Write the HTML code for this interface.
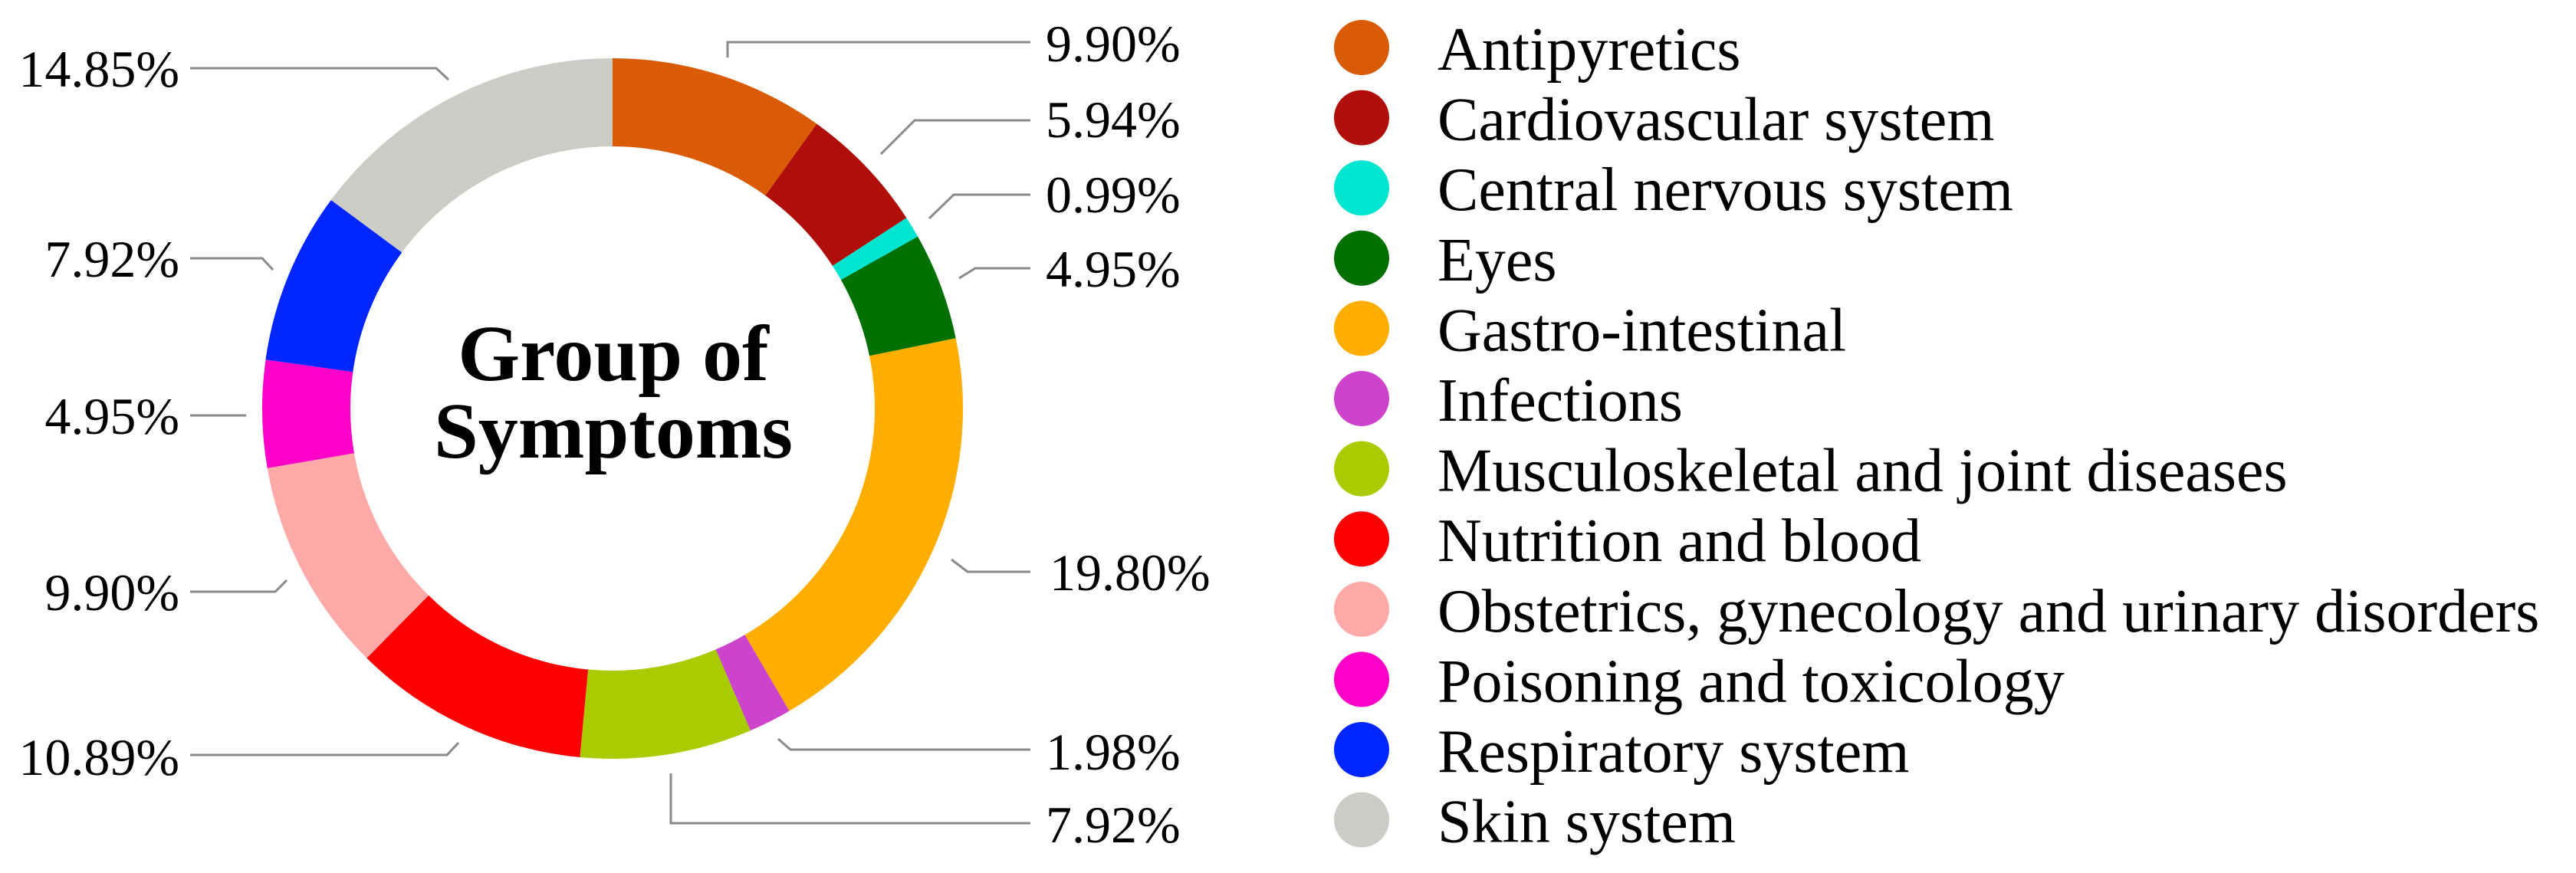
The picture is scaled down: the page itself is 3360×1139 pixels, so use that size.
<!DOCTYPE html>
<html><head><meta charset="utf-8"><style>
html,body{margin:0;padding:0;background:#fff;}
svg{display:block;}
text{font-family:"Liberation Serif",serif;fill:#000;}
</style></head><body>
<svg id="chart" width="3360" height="1139" viewBox="0 0 3360 1139" xmlns="http://www.w3.org/2000/svg">
<g id="slices"></g>
<g id="leaders" stroke="#8a8a8a" stroke-width="3" fill="none"></g>
<g id="labels" font-size="68"></g>
<text x="800" y="496" font-size="104" font-weight="bold" text-anchor="middle">Group of</text>
<text x="800" y="597" font-size="104" font-weight="bold" text-anchor="middle">Symptoms</text>
<g id="legend"></g>
</svg>
<script>
const categories = ["Antipyretics","Cardiovascular system","Central nervous system","Eyes","Gastro-intestinal","Infections","Musculoskeletal and joint diseases","Nutrition and blood","Obstetrics, gynecology and urinary disorders","Poisoning and toxicology","Respiratory system","Skin system"];
const values = [9.90,5.94,0.99,4.95,19.80,1.98,7.92,10.89,9.90,4.95,7.92,14.85];
const colors = ["#d95b06","#b00e0b","#00e5d0","#007000","#ffae00","#cc44cc","#a8cc00","#ff0000","#ffaaa8","#ff00c8","#0025ff","#cbccc6"];
// label layout (annotation positions, not data)
const labelPos = [[1364,80,"start"],[1364,179,"start"],[1364,277,"start"],[1364,374,"start"],[1369,770,"start"],[1364,1004,"start"],[1364,1099,"start"],[234,1011,"end"],[234,796,"end"],[234,566,"end"],[234,361,"end"],[234,113,"end"]];
const leaderPts = [
 [[1344,55],[949,55],[949,75]],
 [[1344,157],[1193,157],[1149,201]],
 [[1344,254],[1244,254],[1212,285]],
 [[1344,350],[1272,350],[1251,363]],
 [[1344,746],[1262,746],[1241,730]],
 [[1344,978],[1031,978],[1015,964]],
 [[1344,1074],[875,1074],[875,1009]],
 [[248,985],[583,985],[598,969]],
 [[248,772],[359,772],[374,757]],
 [[248,542],[321,542]],
 [[248,337],[342,337],[356,352]],
 [[248,89],[569,89],[585,104]]
];
const NS="http://www.w3.org/2000/svg";
const cx=799, cy=533, Ro=457, Ri=342;
const total=values.reduce((a,b)=>a+b,0);
function angle(v){return v/total*2*Math.PI;}
function pt(a,r){return [cx+r*Math.sin(a), cy-r*Math.cos(a)];}
const gS=document.getElementById('slices');
let acc=0;
values.forEach((v,i)=>{
  const a0=angle(acc), a1=angle(acc+v); acc+=v;
  const large=(a1-a0)>Math.PI?1:0;
  const p0=pt(a0,Ro),p1=pt(a1,Ro),p2=pt(a1,Ri),p3=pt(a0,Ri);
  const p=document.createElementNS(NS,'path');
  p.setAttribute('d',`M${p0[0]},${p0[1]} A${Ro},${Ro} 0 ${large} 1 ${p1[0]},${p1[1]} L${p2[0]},${p2[1]} A${Ri},${Ri} 0 ${large} 0 ${p3[0]},${p3[1]} Z`);
  p.setAttribute('fill',colors[i]);
  
  
  gS.appendChild(p);
});
const gL=document.getElementById('leaders');
leaderPts.forEach((pts,i)=>{
  const l=document.createElementNS(NS,'polyline');
  l.setAttribute('points',pts.map(q=>q.join(',')).join(' '));
  
  
  gL.appendChild(l);
});
const gT=document.getElementById('labels');
values.forEach((v,i)=>{
  const t=document.createElementNS(NS,'text');
  t.setAttribute('x',labelPos[i][0]);t.setAttribute('y',labelPos[i][1]);
  t.setAttribute('text-anchor',labelPos[i][2]);
  t.textContent=v.toFixed(2)+'%';
  
  
  gT.appendChild(t);
});
const gG=document.getElementById('legend');
categories.forEach((c,i)=>{
  const y=62+i*91.6;
  const ci=document.createElementNS(NS,'circle');
  ci.setAttribute('cx',1776);ci.setAttribute('cy',y);ci.setAttribute('r',36);ci.setAttribute('fill',colors[i]);
  
  
  gG.appendChild(ci);
  const t=document.createElementNS(NS,'text');
  t.setAttribute('x',1875);t.setAttribute('y',y+29);t.setAttribute('font-size','80');
  t.textContent=c;
  
  
  gG.appendChild(t);
});
</script>
</body></html>
